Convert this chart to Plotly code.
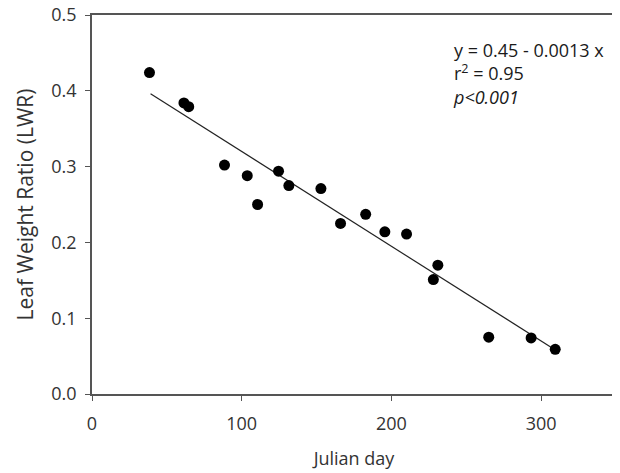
import plotly.graph_objects as go

julian_day = [38.4, 61.4, 64.6, 88.5, 103.7, 110.6, 124.6, 131.5, 152.9, 166.0,
              182.8, 195.6, 210.1, 228.0, 231.0, 265.0, 293.3, 309.4]
lwr = [0.424, 0.384, 0.379, 0.302, 0.288, 0.250, 0.294, 0.275, 0.271, 0.225,
       0.237, 0.214, 0.211, 0.151, 0.170, 0.075, 0.074, 0.059]
fit_x = [39.1, 308.7]
fit_y = [0.396, 0.059]

font_family = "Open Sans, Lato, sans-serif"
txt_color = "#333333"
fs = 18

fig = go.Figure()
fig.add_trace(go.Scatter(x=fit_x, y=fit_y, mode="lines",
                         line=dict(color="#222222", width=1.2), showlegend=False))
fig.add_trace(go.Scatter(x=julian_day, y=lwr, mode="markers",
                         marker=dict(color="black", size=11), showlegend=False))

fig.add_annotation(x=240, y=0.472, xref="x", yref="y", xanchor="left", yanchor="top",
                   align="left", showarrow=False,
                   text="y = 0.45 - 0.0013 x<br>r<sup>2</sup> = 0.95<br><i>p<0.001</i>",
                   font=dict(family=font_family, size=fs, color="#1a1a1a"))

axis_common = dict(showline=True, linecolor="#555555", linewidth=1.5, mirror=True,
                   ticks="outside", ticklen=5, tickcolor="#555555", tickwidth=1.2,
                   showgrid=False, zeroline=False, automargin=False,
                   ticklabeloverflow="allow",
                   tickfont=dict(family=font_family, size=fs, color=txt_color))

fig.update_xaxes(range=[0, 350], tickvals=[0, 100, 200, 300], ticklabelstandoff=8,
                 title=dict(text="Julian day", font=dict(family=font_family, size=fs, color=txt_color), standoff=18),
                 **axis_common)
fig.update_yaxes(range=[0, 0.5], tickvals=[0, 0.1, 0.2, 0.3, 0.4, 0.5], tickformat=".1f",
                 ticklabelstandoff=5,
                 title=dict(text="Leaf Weight Ratio (LWR)", font=dict(family=font_family, size=21, color=txt_color), standoff=12),
                 **axis_common)

# page body has an 8px default margin; compensate so the plot area lands where the reference has it
fig.update_layout(width=620, height=473, margin=dict(l=84, r=12, t=7, b=87, autoexpand=False),
                  plot_bgcolor="white", paper_bgcolor="white")

fig.write_html("out.html")
